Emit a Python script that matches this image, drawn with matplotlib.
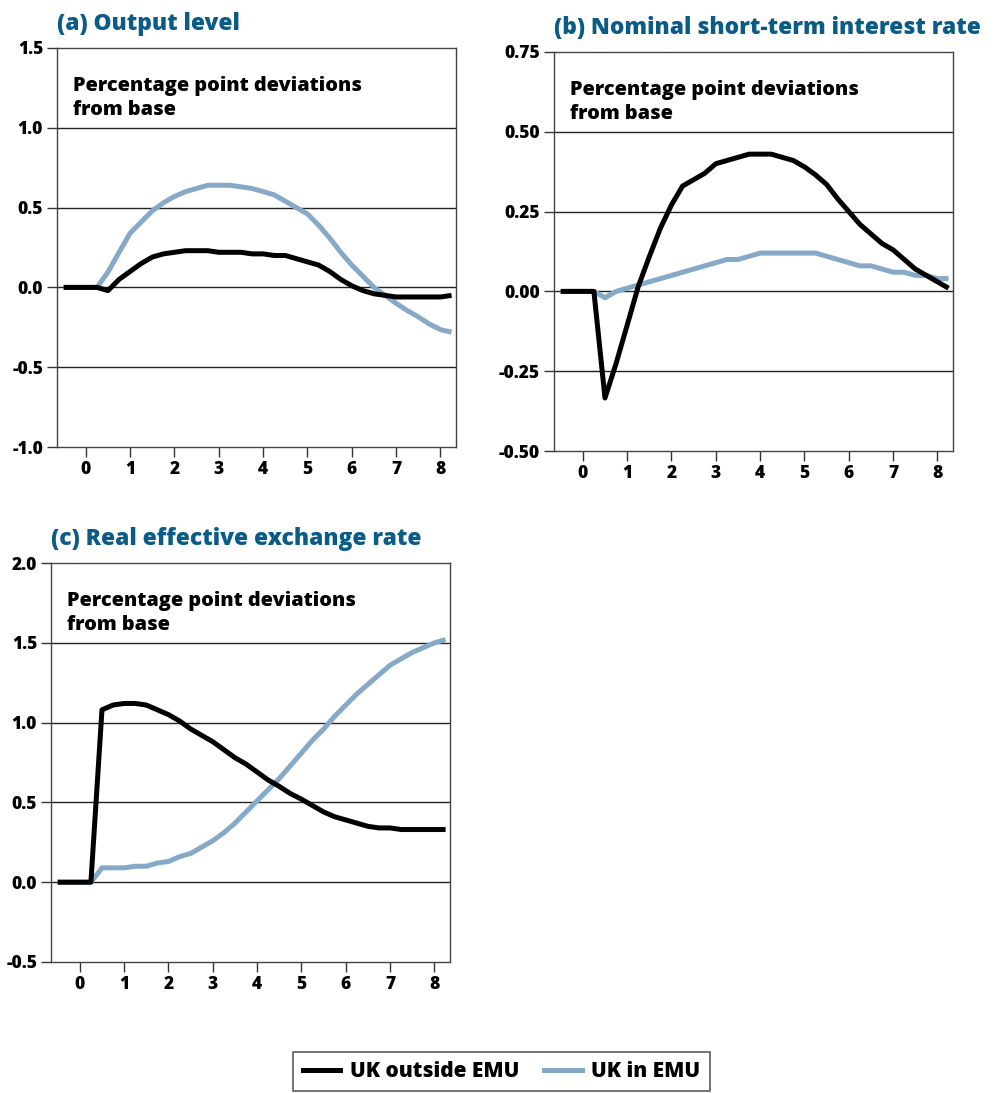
import matplotlib
matplotlib.use("Agg")
import matplotlib.pyplot as plt
import numpy as np

plt.rcParams['font.family'] = ['Open Sans', 'DejaVu Sans']
plt.rcParams['font.weight'] = 'heavy'

# quarterly steps from -0.5 to 8.25 (years)
quarters = np.arange(-0.5, 8.26, 0.25)

output_out = [0, 0, 0, 0, -0.02, 0.05, 0.10, 0.15, 0.19, 0.21, 0.22, 0.23, 0.23, 0.23,
              0.22, 0.22, 0.22, 0.21, 0.21, 0.20, 0.20, 0.18, 0.16, 0.14, 0.10, 0.05,
              0.01, -0.02, -0.04, -0.05, -0.06, -0.06, -0.06, -0.06, -0.06, -0.05]
output_in = [0, 0, 0, 0, 0.096, 0.22, 0.34, 0.41, 0.48, 0.53, 0.57, 0.60, 0.62, 0.64,
             0.64, 0.64, 0.63, 0.62, 0.60, 0.58, 0.54, 0.50, 0.46, 0.39, 0.31, 0.22,
             0.14, 0.07, 0.0, -0.05, -0.10, -0.145, -0.185, -0.23, -0.265, -0.28]

rate_out = [0, 0, 0, 0, -0.334, -0.226, -0.106, 0.015, 0.109, 0.198, 0.271, 0.33, 0.35,
            0.37, 0.40, 0.41, 0.42, 0.43, 0.43, 0.43, 0.42, 0.41, 0.39, 0.365, 0.335,
            0.29, 0.25, 0.21, 0.18, 0.15, 0.13, 0.10, 0.07, 0.05, 0.03, 0.01]
rate_in = [0, 0, 0, 0, -0.02, 0.0, 0.01, 0.02, 0.03, 0.04, 0.05, 0.06, 0.07, 0.08, 0.09,
           0.10, 0.10, 0.11, 0.12, 0.12, 0.12, 0.12, 0.12, 0.12, 0.11, 0.10, 0.09, 0.08,
           0.08, 0.07, 0.06, 0.06, 0.05, 0.05, 0.04, 0.04]

reer_out = [0, 0, 0, 0, 1.08, 1.11, 1.12, 1.12, 1.11, 1.08, 1.05, 1.01, 0.96, 0.92, 0.88,
            0.83, 0.78, 0.74, 0.69, 0.64, 0.60, 0.555, 0.52, 0.48, 0.44, 0.41, 0.39,
            0.37, 0.35, 0.34, 0.34, 0.33, 0.33, 0.33, 0.33, 0.33]
reer_in = [0, 0, 0, 0, 0.09, 0.09, 0.09, 0.10, 0.10, 0.12, 0.13, 0.16, 0.18, 0.22, 0.26,
           0.31, 0.37, 0.44, 0.51, 0.58, 0.65, 0.73, 0.81, 0.89, 0.96, 1.04, 1.11, 1.18,
           1.24, 1.30, 1.36, 1.40, 1.44, 1.47, 1.50, 1.52]

xticks = list(range(9))

panels = [
    ("(a) Output level", output_out, output_in, [-1.0, -0.5, 0.0, 0.5, 1.0, 1.5], "%.1f",
     (57, 456, 48, 447)),
    ("(b) Nominal short-term interest rate", rate_out, rate_in,
     [-0.50, -0.25, 0.00, 0.25, 0.50, 0.75], "%.2f", (554, 953, 52, 451)),
    ("(c) Real effective exchange rate", reer_out, reer_in, [-0.5, 0.0, 0.5, 1.0, 1.5, 2.0],
     "%.1f", (51, 450, 563, 962)),
]

W, H = 1003, 1093
fig = plt.figure(figsize=(W / 100, H / 100), dpi=100)

black = "#000000"
blue = "#87a9c8"
title_col = "#0a5c87"

for title, out_vals, in_vals, yt, fmt, (l, r, t, b) in panels:
    ax = fig.add_axes([l / W, 1 - b / H, (r - l) / W, (b - t) / H])
    ax.plot(quarters, in_vals, color=blue, lw=3.6, solid_capstyle="butt", zorder=3)
    ax.plot(quarters, out_vals, color=black, lw=3.6, solid_capstyle="butt", zorder=4)
    ax.set_xlim(-0.65, 8.35)
    ax.set_ylim(yt[0], yt[-1])
    ax.set_yticks(yt)
    ax.set_yticklabels([fmt % v for v in yt])
    ax.set_xticks(xticks)
    for v in yt[1:-1]:
        ax.axhline(v, color="#222222", lw=1.0, zorder=1)
    for s in ax.spines.values():
        s.set_color("#444444")
        s.set_linewidth(1.0)
    ax.tick_params(axis="both", direction="out", length=7, width=1.0, color="#333333",
                   labelsize=12.5, pad=3)
    for lab in ax.get_xticklabels() + ax.get_yticklabels():
        lab.set_fontweight("heavy")
    ax.text(0.04, 0.93, "Percentage point deviations\nfrom base", transform=ax.transAxes,
            ha="left", va="top", fontsize=14.3, fontweight="heavy", linespacing=1.25)
    fig.text(l / W, 1 - (t - 24) / H, title, ha="left", va="center", fontsize=16.4,
             fontweight="heavy", color=title_col)

handles = [plt.Line2D([], [], color=black, lw=3.6), plt.Line2D([], [], color=blue, lw=3.6)]
leg = fig.legend(handles, ["UK outside EMU", "UK in EMU"], loc="lower center",
                 bbox_to_anchor=(0.5, -0.008), ncol=2, frameon=True, fancybox=False,
                 handlelength=1.8, handletextpad=0.45, columnspacing=1.2, borderpad=0.45,
                 prop={"weight": "heavy", "size": 15})
leg.get_frame().set_edgecolor("#333333")
leg.get_frame().set_linewidth(1.2)

fig.savefig("out.png", dpi=100, facecolor="white")
